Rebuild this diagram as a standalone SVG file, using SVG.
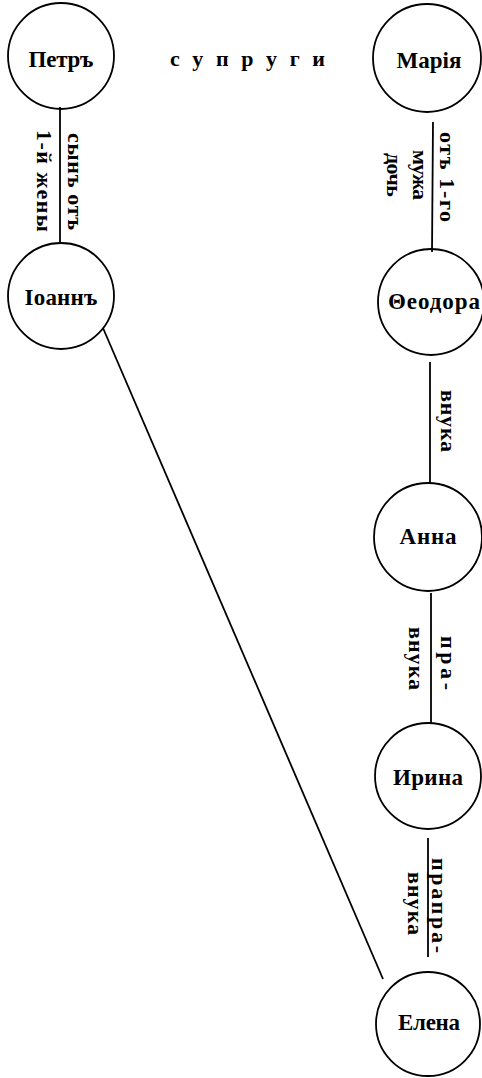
<svg xmlns="http://www.w3.org/2000/svg" width="482" height="1078" viewBox="0 0 482 1078">
<style>
.node circle{fill:none;stroke:#000;stroke-width:1.8}
.lbl{font-family:"Liberation Serif","DejaVu Serif",serif;font-weight:bold;font-size:22px;fill:#000}
.nl{text-anchor:middle;font-size:23px}
.edge{stroke:#000;stroke-width:1.8;fill:none}
</style>
<rect width="482" height="1078" fill="#fff"/>
<g id="connectors">
<line class="edge" x1="60" y1="107" x2="60" y2="242"/>
<line class="edge" x1="433" y1="122" x2="432" y2="252"/>
<line class="edge" x1="430" y1="362" x2="430" y2="484"/>
<line class="edge" x1="431" y1="593" x2="431" y2="723"/>
<line class="edge" x1="428" y1="838" x2="428" y2="957"/>
<line class="edge" x1="103" y1="328" x2="383" y2="979"/>
<text class="lbl" textLength="97" lengthAdjust="spacing" transform="translate(68,133) rotate(90)">сынъ отъ</text>
<text class="lbl" textLength="102" lengthAdjust="spacing" transform="translate(37,130) rotate(90)">1-й жены</text>
<text class="lbl" textLength="90" lengthAdjust="spacing" transform="translate(440,132) rotate(90)">отъ 1-го</text>
<text class="lbl" textLength="50" lengthAdjust="spacing" transform="translate(413,150) rotate(90)">мужа</text>
<text class="lbl" textLength="44" lengthAdjust="spacing" transform="translate(387,153) rotate(90)">дочь</text>
<text class="lbl" textLength="62" lengthAdjust="spacing" transform="translate(441,390) rotate(90)">внука</text>
<text class="lbl" textLength="54" lengthAdjust="spacing" transform="translate(441,636) rotate(90)">пра-</text>
<text class="lbl" textLength="63" lengthAdjust="spacing" transform="translate(409,627) rotate(90)">внука</text>
<text class="lbl" textLength="95" lengthAdjust="spacing" transform="translate(432,858) rotate(90)">прапра-</text>
<text class="lbl" textLength="63" lengthAdjust="spacing" transform="translate(408,872) rotate(90)">внука</text>
<text class="lbl" x="170" y="66" textLength="155" lengthAdjust="spacing">с у п р у г и</text>
</g>
<g id="petr" class="node"><circle cx="61" cy="56" r="53"/><text class="lbl nl" x="61" y="67" textLength="65" lengthAdjust="spacing">Петръ</text></g>
<g id="maria" class="node"><circle cx="427" cy="58" r="54"/><text class="lbl nl" x="429" y="68" textLength="65" lengthAdjust="spacing">Марія</text></g>
<g id="ioann" class="node"><circle cx="61" cy="296" r="53"/><text class="lbl nl" x="61" y="305" textLength="73" lengthAdjust="spacing">Іоаннъ</text></g>
<g id="feodora" class="node"><circle cx="431" cy="302" r="53"/><text class="lbl nl" x="434" y="309" textLength="92" lengthAdjust="spacing">Θеодора</text></g>
<g id="anna" class="node"><circle cx="428" cy="537" r="54"/><text class="lbl nl" x="428" y="544" textLength="57" lengthAdjust="spacing">Анна</text></g>
<g id="irina" class="node"><circle cx="428" cy="776" r="53"/><text class="lbl nl" x="428" y="785" textLength="70" lengthAdjust="spacing">Ирина</text></g>
<g id="elena" class="node"><circle cx="428" cy="1024" r="52"/><text class="lbl nl" x="429" y="1030" textLength="62" lengthAdjust="spacing">Елена</text></g>
</svg>
